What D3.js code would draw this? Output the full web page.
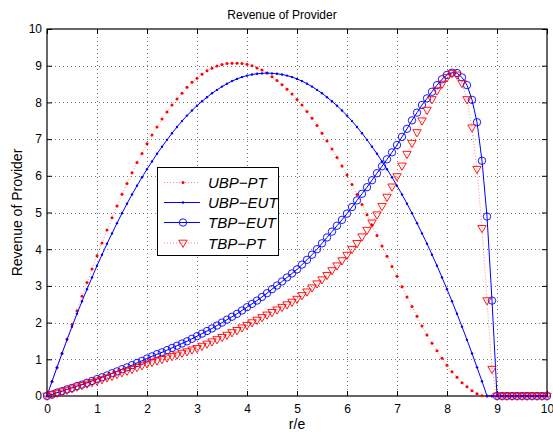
<!DOCTYPE html>
<html>
<head>
<meta charset="utf-8">
<script src="https://cdn.jsdelivr.net/npm/d3@7"></script>
<style>
  html, body { margin: 0; padding: 0; background: #fff; }
  svg { display: block; }
  text { font-family: "Liberation Sans", Arial, Helvetica, sans-serif; fill: #000; }
</style>
</head>
<body>
<svg id="chart" width="553" height="432"></svg>
<script>
// ---------- data ----------
const xValues = [0,0.1,0.2,0.3,0.4,0.5,0.6,0.7,0.8,0.9,
  1,1.1,1.2,1.3,1.4,1.5,1.6,1.7,1.8,1.9,
  2,2.1,2.2,2.3,2.4,2.5,2.6,2.7,2.8,2.9,
  3,3.1,3.2,3.3,3.4,3.5,3.6,3.7,3.8,3.9,
  4,4.1,4.2,4.3,4.4,4.5,4.6,4.7,4.8,4.9,
  5,5.1,5.2,5.3,5.4,5.5,5.6,5.7,5.8,5.9,
  6,6.1,6.2,6.3,6.4,6.5,6.6,6.7,6.8,6.9,
  7,7.1,7.2,7.3,7.4,7.5,7.6,7.7,7.8,7.9,
  8,8.1,8.2,8.3,8.4,8.5,8.6,8.7,8.8,8.9,
  9,9.1,9.2,9.3,9.4,9.5,9.6,9.7,9.8,9.9,
  10];

const ubpPT = [0,0.39,0.77,1.16,1.55,1.95,2.32,2.72,3.09,3.46,
  3.82,4.17,4.52,4.86,5.18,5.50,5.79,6.08,6.36,6.61,
  6.87,7.11,7.33,7.55,7.74,7.93,8.09,8.25,8.41,8.55,
  8.66,8.77,8.86,8.93,8.99,9.03,9.06,9.07,9.07,9.06,
  9.04,9.00,8.94,8.88,8.80,8.70,8.60,8.48,8.36,8.23,
  8.08,7.93,7.75,7.57,7.37,7.16,6.95,6.73,6.50,6.27,
  6.02,5.76,5.49,5.22,4.94,4.66,4.37,4.09,3.81,3.53,
  3.26,2.98,2.70,2.44,2.17,1.91,1.66,1.44,1.23,1.03,
  0.84,0.66,0.51,0.36,0.25,0.14,0.06,0.01,0,0,
  0,0,0,0,0,0,0,0,0,0,
  0];

const ubpEUT = [0,0.40,0.78,1.16,1.53,1.89,2.24,2.58,2.91,3.23,
  3.55,3.85,4.15,4.43,4.71,4.98,5.24,5.49,5.73,5.96,
  6.18,6.39,6.60,6.79,6.98,7.16,7.33,7.49,7.64,7.78,
  7.91,8.03,8.14,8.25,8.34,8.43,8.51,8.58,8.64,8.69,
  8.73,8.76,8.78,8.79,8.80,8.79,8.78,8.76,8.73,8.69,
  8.64,8.58,8.51,8.43,8.34,8.25,8.14,8.03,7.91,7.78,
  7.64,7.49,7.33,7.16,6.98,6.79,6.60,6.39,6.18,5.96,
  5.73,5.49,5.24,4.98,4.71,4.43,4.15,3.85,3.55,3.23,
  2.91,2.58,2.24,1.89,1.53,1.16,0.78,0.40,0,0,
  0,0,0,0,0,0,0,0,0,0,
  0];

const tbpEUT = [0,0.04,0.09,0.13,0.18,0.22,0.27,0.31,0.36,0.41,
  0.46,0.51,0.56,0.62,0.67,0.73,0.78,0.84,0.90,0.96,
  1.02,1.08,1.14,1.19,1.25,1.31,1.37,1.43,1.49,1.56,
  1.63,1.70,1.77,1.84,1.92,2.00,2.08,2.16,2.24,2.33,
  2.42,2.51,2.60,2.70,2.80,2.91,3.01,3.12,3.23,3.34,
  3.45,3.58,3.71,3.85,4.00,4.16,4.32,4.48,4.64,4.80,
  4.97,5.15,5.33,5.51,5.69,5.88,6.07,6.26,6.45,6.64,
  6.84,7.06,7.28,7.51,7.72,7.93,8.11,8.29,8.47,8.63,
  8.75,8.81,8.80,8.68,8.47,8.07,7.46,6.41,4.89,2.60,
  0,0,0,0,0,0,0,0,0,0,
  0];

const tbpPT = [0,0.04,0.08,0.12,0.16,0.20,0.25,0.29,0.33,0.37,
  0.41,0.45,0.50,0.54,0.59,0.64,0.68,0.73,0.78,0.83,
  0.88,0.92,0.96,1.00,1.04,1.08,1.12,1.17,1.21,1.26,
  1.30,1.36,1.42,1.48,1.54,1.60,1.66,1.73,1.79,1.86,
  1.93,2.00,2.07,2.14,2.21,2.28,2.35,2.42,2.49,2.56,
  2.64,2.74,2.84,2.95,3.06,3.17,3.29,3.42,3.55,3.69,
  3.84,4.00,4.16,4.34,4.52,4.72,4.94,5.17,5.42,5.70,
  5.98,6.27,6.59,6.89,7.18,7.50,7.79,8.08,8.32,8.50,
  8.68,8.79,8.75,8.52,8.08,7.31,6.18,4.57,2.60,0.73,
  0,0,0,0,0,0,0,0,0,0,
  0];

const xTicks = [0,1,2,3,4,5,6,7,8,9,10];
const yTicks = [0,1,2,3,4,5,6,7,8,9,10];
const seriesNames = ["UBP\u2212PT", "UBP\u2212EUT", "TBP\u2212EUT", "TBP\u2212PT"];
const titleText = "Revenue of Provider";
const xLabelText = "r/e";
const yLabelText = "Revenue of Provider";

// ---------- layout ----------
const L = 47, R = 547, T = 29, B = 396;
const svg = d3.select("#chart");
const x = d3.scaleLinear().domain([0, 10]).range([L, R]);
const y = d3.scaleLinear().domain([0, 10]).range([B, T]);

const RED = "#ff0000", BLUE = "#0000ff";

// grid
const grid = svg.append("g").attr("stroke", "#555").attr("stroke-width", 0.8)
  .attr("stroke-dasharray", "1,3").attr("shape-rendering", "crispEdges");
grid.selectAll("line.gx").data(xTicks.slice(1, -1)).join("line")
  .attr("x1", d => Math.round(x(d)) + 0.5).attr("x2", d => Math.round(x(d)) + 0.5)
  .attr("y1", T).attr("y2", B);
grid.selectAll("line.gy").data(yTicks.slice(1, -1)).join("line")
  .attr("y1", d => Math.round(y(d)) + 0.5).attr("y2", d => Math.round(y(d)) + 0.5)
  .attr("x1", L).attr("x2", R);

// axes
function styleAxis(g) {
  g.select(".domain").remove();
  g.selectAll(".tick line").attr("stroke", "#000").attr("stroke-width", 1);
  g.selectAll(".tick text").attr("font-size", 12).attr("font-family", "Liberation Sans, Arial, sans-serif");
}
svg.append("g").attr("transform", `translate(0,${B})`)
  .call(d3.axisBottom(x).tickValues(xTicks).tickSizeInner(-5).tickSizeOuter(0).tickPadding(8).tickFormat(d3.format("d")))
  .call(styleAxis);
svg.append("g").attr("transform", `translate(0,${T})`)
  .call(d3.axisTop(x).tickValues(xTicks).tickSizeInner(-5).tickSizeOuter(0).tickFormat(""))
  .call(styleAxis);
svg.append("g").attr("transform", `translate(${L},0)`)
  .call(d3.axisLeft(y).tickValues(yTicks).tickSizeInner(-5).tickSizeOuter(0).tickPadding(5).tickFormat(d3.format("d")))
  .call(styleAxis);
svg.append("g").attr("transform", `translate(${R},0)`)
  .call(d3.axisRight(y).tickValues(yTicks).tickSizeInner(-5).tickSizeOuter(0).tickFormat(""))
  .call(styleAxis);

// frame
svg.append("rect").attr("x", L).attr("y", T).attr("width", R - L).attr("height", B - T)
  .attr("fill", "none").attr("stroke", "#000").attr("stroke-width", 1.2);

// series
const line = d3.line().x(d => x(d[0])).y(d => y(d[1]));
const pts = arr => xValues.map((v, i) => [v, arr[i]]);
const triPath = "M-4.2,-2.8L4.2,-2.8L0,4.4Z";

const plots = svg.append("g");

// UBP-PT : red dotted with dot markers
plots.append("path").datum(pts(ubpPT)).attr("d", line).attr("fill", "none")
  .attr("stroke", RED).attr("stroke-width", 0.8).attr("stroke-dasharray", "1,2").attr("opacity", 0.6);
plots.append("g").selectAll("circle").data(pts(ubpPT)).join("circle")
  .attr("cx", d => x(d[0])).attr("cy", d => y(d[1])).attr("r", 1.5).attr("fill", RED);

// UBP-EUT : blue solid with dot markers
plots.append("path").datum(pts(ubpEUT)).attr("d", line).attr("fill", "none")
  .attr("stroke", BLUE).attr("stroke-width", 1);
plots.append("g").selectAll("circle").data(pts(ubpEUT)).join("circle")
  .attr("cx", d => x(d[0])).attr("cy", d => y(d[1])).attr("r", 1.2).attr("fill", BLUE);

// TBP-EUT : blue solid with circle markers
plots.append("path").datum(pts(tbpEUT)).attr("d", line).attr("fill", "none")
  .attr("stroke", BLUE).attr("stroke-width", 1);
plots.append("g").selectAll("circle").data(pts(tbpEUT)).join("circle")
  .attr("cx", d => x(d[0])).attr("cy", d => y(d[1])).attr("r", 3.7)
  .attr("fill", "none").attr("stroke", BLUE).attr("stroke-width", 0.9);

// TBP-PT : red dotted with down-triangle markers
plots.append("path").datum(pts(tbpPT)).attr("d", line).attr("fill", "none")
  .attr("stroke", RED).attr("stroke-width", 0.8).attr("stroke-dasharray", "1,2").attr("opacity", 0.6);
plots.append("g").selectAll("path").data(pts(tbpPT)).join("path")
  .attr("transform", d => `translate(${x(d[0])},${y(d[1])})`).attr("d", triPath)
  .attr("fill", "none").attr("stroke", RED).attr("stroke-width", 0.9);

// legend
const lg = svg.append("g");
lg.append("rect").attr("x", 157.5).attr("y", 167.5).attr("width", 121).attr("height", 88)
  .attr("fill", "#fff").attr("stroke", "#000").attr("stroke-width", 1);
const rowsY = [182.5, 202.5, 222.5, 243];
const lx1 = 164, lx2 = 200, lmx = 183;
seriesNames.forEach((name, i) => {
  const yy = rowsY[i];
  const isRed = (i === 0 || i === 3);
  const ln = lg.append("line").attr("x1", lx1).attr("x2", lx2).attr("y1", yy).attr("y2", yy)
    .attr("stroke", isRed ? RED : BLUE).attr("stroke-width", isRed ? 0.8 : 1);
  if (isRed) ln.attr("stroke-dasharray", "1,2").attr("opacity", 0.6);
  if (i === 0) lg.append("circle").attr("cx", lmx).attr("cy", yy).attr("r", 1.5).attr("fill", RED);
  if (i === 1) lg.append("circle").attr("cx", lmx).attr("cy", yy).attr("r", 1.2).attr("fill", BLUE);
  if (i === 2) lg.append("circle").attr("cx", lmx).attr("cy", yy).attr("r", 3.7).attr("fill", "none").attr("stroke", BLUE).attr("stroke-width", 0.9);
  if (i === 3) lg.append("path").attr("transform", `translate(${lmx},${yy})`).attr("d", triPath).attr("fill", "none").attr("stroke", RED).attr("stroke-width", 0.9);
  lg.append("text").attr("x", 208).attr("y", yy + 5.5).attr("font-size", 15).attr("font-style", "italic").text(name);
});

// title & labels
svg.append("text").attr("x", 282).attr("y", 19).attr("text-anchor", "middle").attr("font-size", 12).text(titleText);
svg.append("text").attr("x", (L + R) / 2).attr("y", 429).attr("text-anchor", "middle").attr("font-size", 14).text(xLabelText);
svg.append("text").attr("transform", `translate(22,${(T + B) / 2}) rotate(-90)`).attr("text-anchor", "middle")
  .attr("font-size", 14).text(yLabelText);
</script>
</body>
</html>
